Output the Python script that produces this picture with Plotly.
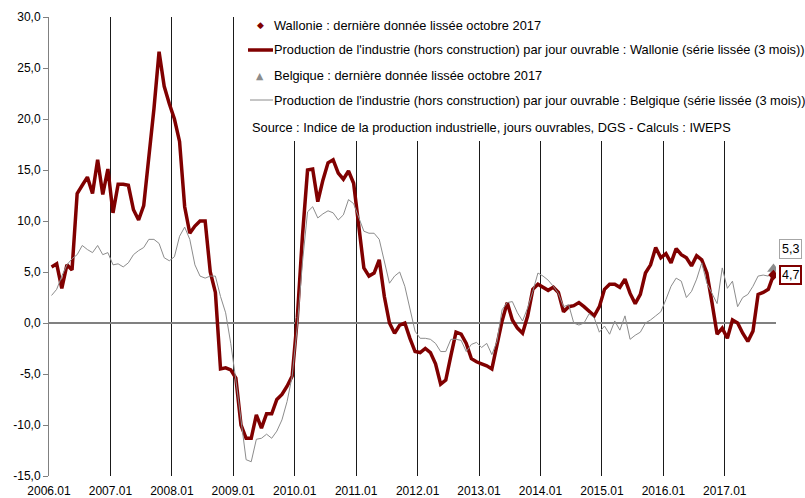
import plotly.graph_objects as go

# ---------------- data (monthly, 2006.01 -> 2017.10) ----------------
wallonie = [
    5.5, 5.8, 3.4, 5.7, 5.2, 12.7, 13.5, 14.3, 12.7, 16.0, 12.6, 15.1,      # 2006
    10.8, 13.6, 13.6, 13.5, 11.1, 10.1, 11.5, 16.0, 21.0, 26.6, 23.2, 21.5,  # 2007
    20.0, 17.8, 11.4, 8.8, 9.5, 10.0, 10.0, 5.0, 3.0, -4.5, -4.4, -4.6,      # 2008
    -5.4, -10.0, -11.3, -11.3, -9.0, -10.3, -8.9, -8.9, -7.5, -7.0, -6.2, -5.2,  # 2009
    0.5, 8.5, 15.0, 15.1, 11.9, 14.0, 15.7, 16.0, 14.7, 14.1, 14.9, 13.7,   # 2010
    9.5, 5.4, 4.6, 4.9, 6.2, 2.6, 0.0, -1.0, -0.2, 0.0, -1.5, -2.8,         # 2011
    -2.9, -2.5, -2.9, -4.0, -6.0, -5.6, -3.2, -0.9, -1.1, -2.0, -3.5, -3.8,  # 2012
    -4.0, -4.2, -4.5, -2.0, 0.2, 2.0, 0.3, -0.5, -1.0, 0.7, 3.3, 3.8,       # 2013
    3.5, 3.2, 3.5, 3.0, 1.1, 1.6, 1.7, 2.0, 1.6, 1.2, 0.7, 1.6,             # 2014
    3.3, 3.8, 3.8, 3.5, 4.3, 2.9, 1.9, 2.8, 4.9, 5.7, 7.4, 6.4,             # 2015
    6.8, 5.9, 7.3, 6.7, 6.4, 5.6, 6.6, 6.2, 4.9, 2.0, -1.1, -0.5,           # 2016
    -1.5, 0.3, 0.0, -1.0, -1.8, -0.8, 2.8, 3.0, 3.3, 4.7,                   # 2017
]
belgique = [
    2.7, 3.3, 4.6, 5.7, 6.3, 6.7, 7.6, 7.2, 6.9, 7.6, 6.7, 6.9,
    5.7, 5.8, 5.5, 5.9, 6.7, 7.1, 7.4, 8.2, 8.2, 7.8, 6.4, 6.1,
    6.5, 8.5, 9.4, 8.2, 5.7, 4.6, 4.4, 4.6, 4.6, 2.6, 1.0, -2.0,
    -5.6, -9.8, -13.4, -13.6, -11.4, -11.3, -10.9, -11.3, -10.6, -9.5, -7.7, -5.2,
    -0.3, 5.9, 10.9, 11.4, 10.3, 10.7, 11.0, 10.8, 10.1, 10.6, 12.1, 11.7,
    10.4, 9.0, 8.8, 8.8, 8.2, 6.0, 3.9, 4.6, 5.0, 3.6, 1.3, -0.8,
    -1.5, -1.5, -1.6, -2.0, -2.8, -2.8, -1.6, -1.6, -1.7, -2.8, -2.1, -1.9,
    -2.4, -2.0, -3.1, -1.8, 1.3, 2.0, 2.1, 1.0, 0.2, 1.5, 3.1, 4.9,
    4.6, 4.2, 3.6, 2.9, 1.6, 1.8, 0.0, -0.2, 0.0, 0.9, 0.5, -0.9,
    -0.3, -1.1, 0.2, -0.7, 0.7, -1.6, -1.2, -0.9, 0.0, 0.3, 0.7, 1.1,
    2.3, 3.6, 4.4, 4.1, 2.5, 3.1, 4.3, 5.9, 3.9, 2.9, 1.9, 5.4,
    3.4, 4.1, 1.6, 2.5, 2.8, 3.6, 4.6, 4.7, 4.6, 5.3,
]
year_labels = ["2006.01", "2007.01", "2008.01", "2009.01", "2010.01", "2011.01",
               "2012.01", "2013.01", "2014.01", "2015.01", "2016.01", "2017.01"]
y_ticks = [-15, -10, -5, 0, 5, 10, 15, 20, 25, 30]

legend_texts = [
    "Wallonie : dernière donnée lissée octobre 2017",
    "Production de l'industrie (hors construction) par jour ouvrable : Wallonie (série lissée (3 mois))",
    "Belgique : dernière donnée lissée octobre 2017",
    "Production de l'industrie (hors construction) par jour ouvrable : Belgique (série lissée (3 mois))",
]
source_text = "Source : Indice de la production industrielle, jours ouvrables, DGS - Calculs : IWEPS"

# ---------------- layout constants ----------------
W, H = 805, 498
ML, MR, MT, MB = 49, 29, 17, 22
PW, PH = W - ML - MR, H - MT - MB
RED = "#800000"
GREY = "#8c8c8c"
FONT = "Liberation Sans, Arial, sans-serif"
LEG_SIZE = 12.8

# month index, points sit in the middle of each month
x = [i + 0.5 for i in range(len(wallonie))]


def px(xw):
    """pixel x -> paper coordinate"""
    return (xw - ML) / PW


def py(yw):
    """pixel y -> paper coordinate"""
    return (H - MB - yw) / PH


def fmt(v):
    return f"{v:.1f}".replace(".", ",")


fig = go.Figure()

fig.add_trace(go.Scatter(x=x, y=wallonie, mode="lines",
                         line=dict(color=RED, width=3.5), hoverinfo="skip"))
fig.add_trace(go.Scatter(x=x, y=belgique, mode="lines",
                         line=dict(color=GREY, width=1), hoverinfo="skip"))
fig.add_trace(go.Scatter(x=[x[-1]], y=[belgique[-1]], mode="markers",
                         marker=dict(symbol="triangle-up", size=11, color="#8c8c8c"),
                         hoverinfo="skip"))
fig.add_trace(go.Scatter(x=[x[-1]], y=[wallonie[-1]], mode="markers",
                         marker=dict(symbol="diamond", size=8, color=RED),
                         hoverinfo="skip"))

shapes = [
    # white legend background hiding the gridlines
    dict(type="rect", xref="paper", yref="paper", x0=px(236), x1=px(810),
         y0=py(141), y1=py(-5), fillcolor="white", line=dict(width=0), layer="above"),
    # legend line samples
    dict(type="line", xref="paper", yref="paper", x0=px(248), x1=px(273),
         y0=py(50), y1=py(50), line=dict(color=RED, width=3.5)),
    dict(type="line", xref="paper", yref="paper", x0=px(250), x1=px(273),
         y0=py(100), y1=py(100), line=dict(color=GREY, width=1)),
]

ann = []
ann.append(dict(xref="paper", yref="paper", x=px(260), y=py(25), text="◆",
                showarrow=False, font=dict(color=RED, size=9, family="DejaVu Sans"),
                xanchor="center", yanchor="middle"))
ann.append(dict(xref="paper", yref="paper", x=px(260), y=py(75), text="▲",
                showarrow=False, font=dict(color=GREY, size=9.5, family="DejaVu Sans"),
                xanchor="center", yanchor="middle"))
for t, yy in zip(legend_texts, [25, 50, 75, 100]):
    ann.append(dict(xref="paper", yref="paper", x=px(272), y=py(yy), text=t,
                    showarrow=False, font=dict(color="#000000", size=LEG_SIZE, family=FONT),
                    xanchor="left", yanchor="middle"))
ann.append(dict(xref="paper", yref="paper", x=px(250), y=py(127), text=source_text,
                showarrow=False, font=dict(color="#000000", size=LEG_SIZE, family=FONT),
                xanchor="left", yanchor="middle"))
# end-value labels
ann.append(dict(x=x[-1], y=belgique[-1], xref="x", yref="y", text=fmt(belgique[-1]),
                showarrow=False, xanchor="left", yanchor="middle", xshift=6, yshift=20,
                font=dict(size=12.5, color="#000000", family=FONT),
                bgcolor="white", bordercolor="#a6a6a6", borderwidth=1, borderpad=2))
ann.append(dict(x=x[-1], y=wallonie[-1], xref="x", yref="y", text=fmt(wallonie[-1]),
                showarrow=False, xanchor="left", yanchor="middle", xshift=6, yshift=0,
                font=dict(size=12.5, color="#000000", family=FONT),
                bgcolor="white", bordercolor=RED, borderwidth=2, borderpad=1))

fig.update_layout(
    width=W, height=H,
    margin=dict(l=ML, r=MR, t=MT, b=MB, pad=0, autoexpand=False),
    paper_bgcolor="white", plot_bgcolor="white",
    showlegend=False,
    font=dict(family=FONT, size=12, color="#000000"),
    shapes=shapes, annotations=ann,
    xaxis=dict(range=[0, 142], tickvals=[12 * i for i in range(len(year_labels))],
               ticktext=year_labels, showgrid=True, gridcolor="#1a1a1a", gridwidth=1,
               zeroline=False, showline=False, ticks="", ticklabelstandoff=6,
               automargin=False,
               tickfont=dict(size=12, family=FONT, color="#000000"), fixedrange=True),
    yaxis=dict(range=[-15, 30], tickvals=y_ticks, ticktext=[fmt(v) for v in y_ticks],
               showgrid=False, zeroline=True, zerolinecolor="#808080", zerolinewidth=1.5,
               showline=True, linecolor="#808080", linewidth=1,
               ticks="outside", ticklen=5, tickcolor="#808080", automargin=False,
               tickfont=dict(size=12, family=FONT, color="#000000"), fixedrange=True),
)

fig.write_html(
    "out.html",
    config={"displayModeBar": False},
    post_script="document.body.style.margin='0';document.body.style.overflow='hidden';",
)
